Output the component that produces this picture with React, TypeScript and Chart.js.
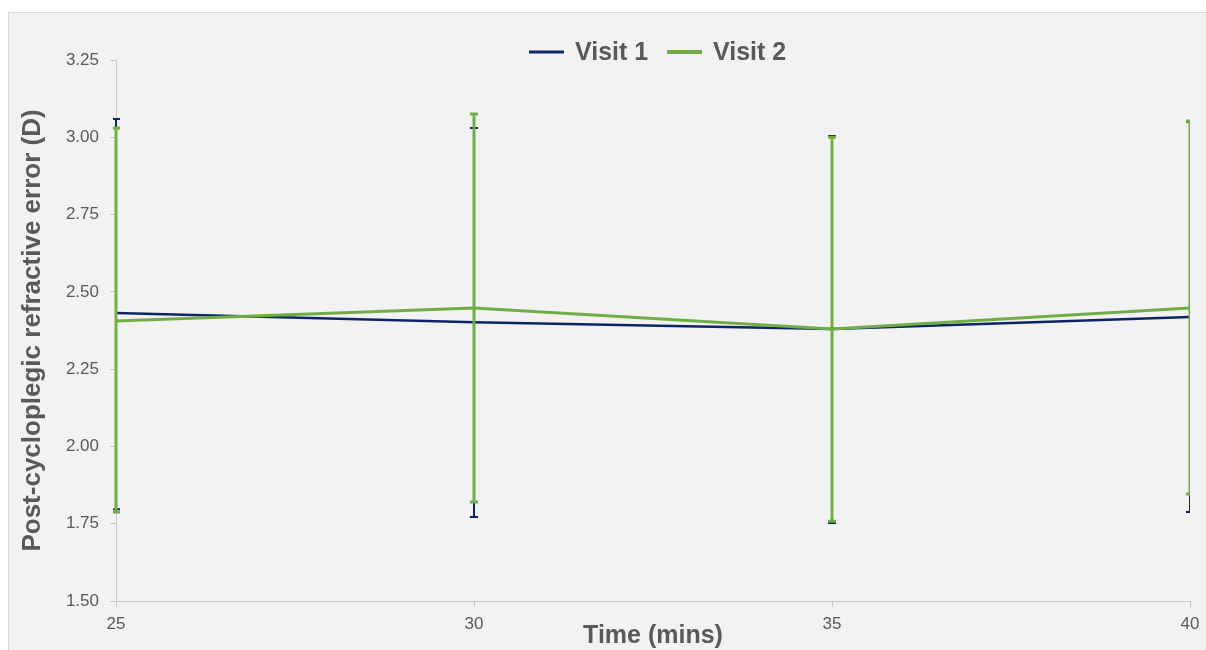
import React, { useEffect, useRef } from "react";
import { Chart, registerables } from "chart.js";

Chart.register(...registerables);

const times = [25, 30, 35, 40];
const visit1Mean = [2.432, 2.402, 2.38, 2.419];
const visit1Upper = [3.059, 3.03, 3.004, 3.05];
const visit1Lower = [1.797, 1.772, 1.752, 1.788];
const visit2Mean = [2.406, 2.448, 2.38, 2.448];
const visit2Upper = [3.03, 3.075, 3.0, 3.053];
const visit2Lower = [1.788, 1.82, 1.758, 1.846];
const seriesNames = ["Visit 1", "Visit 2"];
const yTicks = [1.5, 1.75, 2.0, 2.25, 2.5, 2.75, 3.0, 3.25];

const NAVY = "#0b2566";
const GREEN = "#70ad47";
const TEXT = "#595959";
const AXIS = "#c8c8c8";
const FONT = "'Liberation Sans', Arial, sans-serif";

export default function App() {
  const ref = useRef<HTMLCanvasElement | null>(null);
  useEffect(() => {
    if (!ref.current) return;
    const errorBars = {
      id: "errorBars",
      afterDatasetsDraw(chart: any) {
        const { ctx, chartArea, scales } = chart;
        const xs = scales.x;
        const ys = scales.y;
        const sets = [
          { up: visit1Upper, lo: visit1Lower, color: NAVY, w: 2 },
          { up: visit2Upper, lo: visit2Lower, color: GREEN, w: 3 },
        ];
        ctx.save();
        ctx.beginPath();
        ctx.rect(chartArea.left - 3, chartArea.top - 20, chartArea.right - chartArea.left + 3, chartArea.bottom - chartArea.top + 40);
        ctx.clip();
        sets.forEach((s) => {
          ctx.strokeStyle = s.color;
          ctx.lineWidth = s.w;
          times.forEach((t, i) => {
            const x = xs.getPixelForValue(t);
            const y1 = ys.getPixelForValue(s.up[i]);
            const y2 = ys.getPixelForValue(s.lo[i]);
            ctx.beginPath();
            ctx.moveTo(x, y1);
            ctx.lineTo(x, y2);
            ctx.moveTo(x - 4, y1);
            ctx.lineTo(x + 4, y1);
            ctx.moveTo(x - 4, y2);
            ctx.lineTo(x + 4, y2);
            ctx.stroke();
          });
        });
        ctx.restore();
      },
      afterDraw(chart: any) {
        const { ctx } = chart;
        ctx.save();
        ctx.font = `bold 25px ${FONT}`;
        ctx.textBaseline = "middle";
        ctx.fillStyle = TEXT;
        const y = 39;
        const items = [
          { name: seriesNames[0], color: NAVY, w: 3, x: 520, tx: 566 },
          { name: seriesNames[1], color: GREEN, w: 4, x: 658, tx: 704 },
        ];
        items.forEach((it) => {
          ctx.strokeStyle = it.color;
          ctx.lineWidth = it.w;
          ctx.beginPath();
          ctx.moveTo(it.x, y);
          ctx.lineTo(it.x + 35, y);
          ctx.stroke();
          ctx.fillText(it.name, it.tx, y + 1);
        });
        ctx.restore();
      },
    };
    const chart = new Chart(ref.current, {
      type: "line",
      data: {
        datasets: [
          {
            label: seriesNames[0],
            data: times.map((t, i) => ({ x: t, y: visit1Mean[i] })),
            borderColor: NAVY,
            backgroundColor: NAVY,
            borderWidth: 2.5,
            pointRadius: 0,
            tension: 0,
            order: 2,
          },
          {
            label: seriesNames[1],
            data: times.map((t, i) => ({ x: t, y: visit2Mean[i] })),
            borderColor: GREEN,
            backgroundColor: GREEN,
            borderWidth: 3,
            pointRadius: 0,
            tension: 0,
            order: 1,
          },
        ],
      },
      options: {
        animation: false,
        responsive: false,
        maintainAspectRatio: false,
        layout: { padding: { top: 47, right: 16, left: 0, bottom: 0 } },
        plugins: { legend: { display: false }, tooltip: { enabled: false } },
        scales: {
          x: {
            type: "linear",
            min: 25,
            max: 40,
            afterBuildTicks: (s: any) => {
              s.ticks = times.map((v) => ({ value: v }));
            },
            afterFit: (s: any) => {
              s.height = 49;
              s.paddingLeft = 0;
              s.paddingRight = 0;
            },
            grid: { drawOnChartArea: false, drawTicks: true, tickLength: 6, color: AXIS },
            border: { display: true, color: AXIS, width: 1 },
            ticks: { color: TEXT, font: { family: FONT, size: 17 }, padding: 7, maxRotation: 0 },
            title: {
              display: true,
              text: "Time (mins)",
              color: TEXT,
              font: { family: FONT, size: 25, weight: "bold" },
              padding: { top: 0, bottom: -1 },
            },
          },
          y: {
            type: "linear",
            min: 1.5,
            max: 3.25,
            afterBuildTicks: (s: any) => {
              s.ticks = yTicks.map((v) => ({ value: v }));
            },
            afterFit: (s: any) => {
              s.width = 107;
              s.paddingTop = 0;
              s.paddingBottom = 0;
            },
            grid: { drawOnChartArea: false, drawTicks: true, tickLength: 6, color: AXIS },
            border: { display: true, color: AXIS, width: 1 },
            ticks: {
              color: TEXT,
              font: { family: FONT, size: 17 },
              padding: 11,
              callback: (v: any) => Number(v).toFixed(2),
            },
            title: {
              display: true,
              text: "Post-cycloplegic refractive error (D)",
              color: TEXT,
              font: { family: FONT, size: 26, weight: "bold" },
              padding: { top: 8, bottom: 0 },
            },
          },
        },
      },
      plugins: [errorBars],
    } as any);
    return () => chart.destroy();
  }, []);
  return (
    <div
      style={{
        position: "fixed",
        left: 8,
        top: 12,
        width: 1205,
        height: 645,
        border: "1px solid #d9d9d9",
        background: "#f2f2f2",
        boxSizing: "border-box",
        overflow: "hidden",
      }}
    >
      <canvas ref={ref} width={1197} height={637} style={{ display: "block" }} />
    </div>
  );
}
